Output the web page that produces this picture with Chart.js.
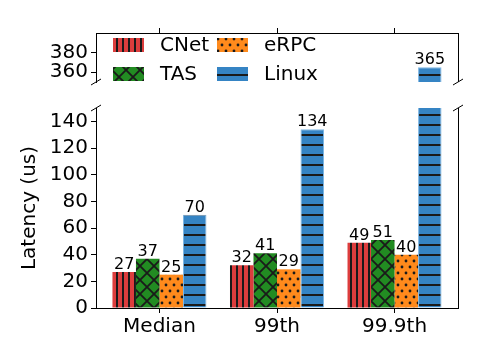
<!DOCTYPE html>
<html><head><meta charset="utf-8">
<script src="https://cdn.jsdelivr.net/npm/chart.js@4"></script>
<style>
html,body{margin:0;padding:0;background:#fff;}
#wrap{position:relative;width:480px;height:360px;overflow:hidden;}
canvas{position:absolute;left:0;top:0;}
</style></head><body>
<div id="wrap"><canvas id="bot" width="480" height="360"></canvas><canvas id="top" width="480" height="360"></canvas></div>
<script>
const categories = ['Median', '99th', '99.9th'];
const seriesNames = ['CNet', 'TAS', 'eRPC', 'Linux'];
const cnet = [27, 32, 49];
const tas = [37, 41, 51];
const erpc = [25, 29, 40];
const linux = [70, 134, 365];
const lowerTicks = [0, 20, 40, 60, 80, 100, 120, 140];
const upperTicks = [360, 380];
const lowerRange = [0, 150];
const upperRange = [350, 400];
const yTitle = 'Latency (us)';

Chart.defaults.font.family = 'DejaVu Sans';
Chart.defaults.color = '#000';

const HATCH = '#1a1a1a';
function makePattern(bg, w, h, draw) {
  const c = document.createElement('canvas'); c.width = w; c.height = h;
  const g = c.getContext('2d');
  g.fillStyle = bg; g.fillRect(0, 0, w, h);
  g.fillStyle = HATCH; g.strokeStyle = HATCH;
  draw(g, w, h);
  return g.createPattern(c, 'repeat');
}
const patterns = [
  makePattern('#dc3d3d', 6, 6, (g) => { g.fillRect(2, 0, 2, 6); }),
  makePattern('#228b22', 14, 14, (g, w, h) => {
    g.lineWidth = 1.8; g.beginPath();
    g.moveTo(-1, -1); g.lineTo(w + 1, h + 1);
    g.moveTo(-1, h + 1); g.lineTo(w + 1, -1);
    g.stroke();
  }),
  makePattern('#ff8a1c', 8, 12, (g) => {
    g.beginPath(); g.arc(2, 3, 1.4, 0, Math.PI * 2); g.fill();
    g.beginPath(); g.arc(6, 9, 1.4, 0, Math.PI * 2); g.fill();
  }),
  makePattern('#3584c4', 10, 10, (g) => { g.fillRect(0, 4, 10, 2); })
];
const seriesValues = [cnet, tas, erpc, linux];

function datasets() {
  return seriesNames.map((n, i) => ({
    label: n,
    data: seriesValues[i].map((v, j) => ({ x: j, y: v })),
    backgroundColor: patterns[i],
    borderColor: i === 3 ? '#7fb6e2' : 'rgba(0,0,0,0)',
    borderWidth: i === 3 ? 1 : 0,
    categoryPercentage: 0.8,
    barPercentage: 1.0
  }));
}

const valueLabels = {
  id: 'valueLabels',
  afterDatasetsDraw(chart) {
    const { ctx } = chart; const ys = chart.scales.y;
    ctx.save();
    ctx.font = '16px "DejaVu Sans"'; ctx.fillStyle = '#000';
    ctx.textAlign = 'center'; ctx.textBaseline = 'alphabetic';
    chart.data.datasets.forEach((ds, i) => {
      chart.getDatasetMeta(i).data.forEach((bar, j) => {
        const v = ds.data[j].y;
        if (v >= ys.min && v <= ys.max) ctx.fillText(String(v), bar.x, bar.y - 3);
      });
    });
    ctx.restore();
  }
};

function framePlugin(edge) {
  return {
    id: 'frame',
    afterDraw(chart) {
      const { ctx, chartArea: a } = chart;
      ctx.save(); ctx.strokeStyle = '#000'; ctx.lineWidth = 1;
      ctx.beginPath();
      ctx.moveTo(Math.round(a.right) + 0.5, a.top); ctx.lineTo(Math.round(a.right) + 0.5, a.bottom);
      ctx.stroke();
      const y = edge === 'bottom' ? a.bottom : a.top;
      ctx.beginPath();
      [a.left, a.right].forEach(x => { ctx.moveTo(x - 5, y + 3); ctx.lineTo(x + 5, y - 3); });
      ctx.stroke();
      ctx.restore();
    }
  };
}

const legendPlugin = {
  id: 'customLegend',
  afterDraw(chart) {
    const { ctx } = chart;
    const colX = [113, 217], rowY = [45, 74];
    ctx.save();
    ctx.font = '20px "DejaVu Sans"'; ctx.textBaseline = 'middle'; ctx.textAlign = 'left';
    seriesNames.forEach((n, k) => {
      const col = Math.floor(k / 2), row = k % 2;
      const x = colX[col], y = rowY[row];
      ctx.fillStyle = patterns[k];
      ctx.fillRect(x, y - 7, 31, 14);
      ctx.fillStyle = '#000';
      ctx.fillText(n, x + 47, y + 1);
    });
    ctx.restore();
  }
};

const tickFont = { family: 'DejaVu Sans', size: 20 };

function xScale(pos, showLabels) {
  return {
    type: 'linear', position: pos, min: -0.54, max: 2.54, offset: false,
    afterBuildTicks: s => { s.ticks = categories.map((c, i) => ({ value: i })); },
    afterFit: s => { s.height = pos === 'top' ? 33 : 52; },
    ticks: { display: showLabels, callback: v => categories[v], font: tickFont, color: '#000', padding: 2, maxRotation: 0, autoSkip: false },
    grid: { offset: false, drawOnChartArea: false, drawTicks: true, tickLength: 5, color: '#000', lineWidth: 1 },
    border: { display: true, color: '#000', width: 1 }
  };
}
function yScale(range, ticks, withTitle) {
  return {
    type: 'linear', min: range[0], max: range[1],
    afterBuildTicks: s => { s.ticks = ticks.map(v => ({ value: v })); },
    afterFit: s => { s.width = 96; },
    ticks: { font: tickFont, color: '#000', padding: 3 },
    grid: { drawOnChartArea: false, drawTicks: true, tickLength: 5, color: '#000', lineWidth: 1 },
    border: { display: true, color: '#000', width: 1 },
    title: { display: withTitle, text: yTitle, font: tickFont, color: '#000', padding: { top: 18, bottom: 0 } }
  };
}

new Chart(document.getElementById('bot'), {
  type: 'bar',
  data: { datasets: datasets() },
  options: {
    responsive: false, animation: false, devicePixelRatio: 1,
    layout: { padding: { left: 0, right: 22, top: 108, bottom: 0 } },
    plugins: { legend: { display: false }, tooltip: { enabled: false } },
    scales: { x: xScale('bottom', true), y: yScale(lowerRange, lowerTicks, true) }
  },
  plugins: [valueLabels, framePlugin('top')]
});

new Chart(document.getElementById('top'), {
  type: 'bar',
  data: { datasets: datasets() },
  options: {
    responsive: false, animation: false, devicePixelRatio: 1,
    layout: { padding: { left: 0, right: 22, top: 0, bottom: 278 } },
    plugins: { legend: { display: false }, tooltip: { enabled: false } },
    scales: { x: xScale('top', false), y: yScale(upperRange, upperTicks, false) }
  },
  plugins: [valueLabels, framePlugin('bottom'), legendPlugin]
});
</script>
</body></html>
